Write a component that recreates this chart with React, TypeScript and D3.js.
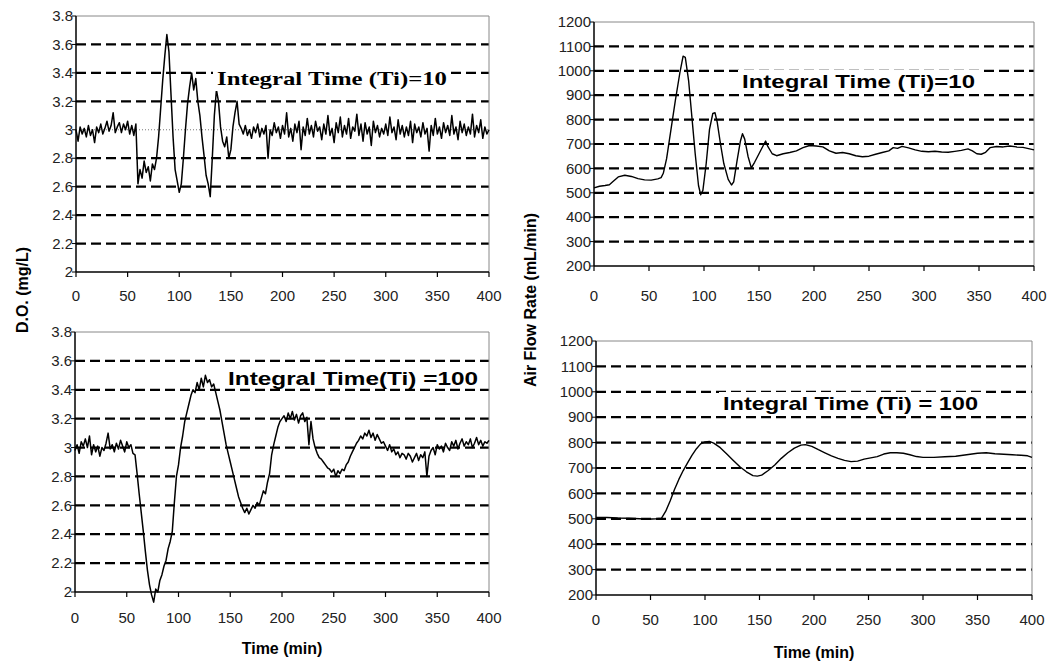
import React, { useEffect, useRef } from 'react';
import * as d3 from 'd3';

const W = 1055;
const H = 663;

// D.O. readings, one every 2 min from 0 to 400
const doTime = d3.range(0, 401, 2);

const doTi10 = [
  3.00, 2.92, 3.02, 2.97, 3.01, 2.95, 3.03, 2.96, 3.00, 2.91,
  3.02, 2.98, 3.04, 2.97, 3.01, 3.06, 2.99, 3.03, 3.12, 2.98,
  3.02, 3.05, 2.98, 3.04, 3.00, 3.06, 2.97, 3.03, 2.96, 3.04,
  2.62, 2.72, 2.66, 2.78, 2.70, 2.74, 2.64, 2.76, 2.72, 2.80,
  2.95, 3.15, 3.35, 3.52, 3.67, 3.55, 3.25, 2.95, 2.72, 2.64,
  2.56, 2.62, 2.80, 3.00, 3.18, 3.30, 3.40, 3.28, 3.36, 3.20,
  3.10, 2.95, 2.82, 2.68, 2.62, 2.53, 2.80, 3.10, 3.28, 3.20,
  3.02, 2.92, 2.88, 2.95, 2.80, 2.86, 3.02, 3.12, 3.20, 3.04,
  3.01, 2.97, 3.03, 2.96, 3.00, 2.94, 3.02, 2.98, 3.04, 2.95,
  3.01, 2.97, 3.03, 2.80, 3.00, 2.96, 3.05, 2.98, 3.02, 2.94,
  3.03, 2.97, 3.12, 2.95, 3.01, 2.92, 3.04, 2.98, 3.06, 2.86,
  3.02, 2.96, 3.08, 2.97, 3.03, 2.95, 3.06, 2.99, 3.02, 2.93,
  3.04, 2.97, 3.10, 2.96, 3.01, 2.91, 3.05, 2.98, 3.09, 2.95,
  3.03, 2.97, 3.08, 2.94, 3.02, 2.99, 3.11, 2.96, 3.04, 2.92,
  3.05, 2.97, 3.02, 2.89, 3.06, 2.98, 3.03, 2.95, 3.01, 2.97,
  3.04, 2.96, 3.09, 2.98, 3.02, 2.93, 3.07, 2.97, 3.03, 2.95,
  3.02, 2.96, 3.06, 2.91, 3.04, 2.98, 3.02, 2.95, 3.05, 2.97,
  3.01, 2.85, 3.03, 2.96, 3.08, 2.97, 3.02, 2.94, 3.05, 2.98,
  3.03, 2.96, 3.10, 2.97, 3.02, 2.93, 3.06, 2.98, 3.04, 2.96,
  3.02, 2.97, 3.11, 2.95, 3.03, 2.98, 3.07, 2.94, 3.02, 2.97,
  3.00,
];

const doTi100 = [
  2.98, 3.02, 2.96, 3.04, 3.01, 3.06, 3.00, 3.08, 2.95, 3.02,
  2.97, 3.01, 2.94, 3.00, 2.98, 3.03, 3.10, 2.99, 3.02, 2.97,
  3.03, 2.99, 3.05, 3.01, 2.97, 3.04, 3.00, 3.02, 2.96,
  2.95, 2.82, 2.68, 2.55, 2.42, 2.28, 2.15, 2.05, 1.98, 1.93,
  2.02, 2.00, 2.08, 2.12, 2.18, 2.22, 2.30, 2.35, 2.42, 2.62,
  2.80, 2.88, 3.00, 3.08, 3.18, 3.24, 3.30, 3.36, 3.40, 3.38,
  3.45, 3.40, 3.48, 3.42, 3.50, 3.45, 3.47, 3.42, 3.44, 3.38,
  3.32, 3.26, 3.18, 3.10, 3.02, 2.96, 2.90, 2.84, 2.78, 2.72,
  2.66, 2.62, 2.58, 2.55, 2.58, 2.54, 2.57, 2.60, 2.58, 2.62,
  2.60, 2.65, 2.70, 2.68, 2.76, 2.82, 2.95, 3.02, 3.08, 3.14,
  3.18, 3.20, 3.22, 3.18, 3.24, 3.20, 3.25, 3.19, 3.23, 3.17,
  3.22, 3.24, 3.18, 3.21, 3.02, 3.18, 3.06, 3.00, 2.96, 2.93,
  2.92, 2.90, 2.88, 2.86, 2.85, 2.83, 2.85, 2.80, 2.84, 2.82,
  2.85, 2.84, 2.88, 2.90, 2.94, 2.97, 3.00, 3.03, 3.05, 3.08,
  3.06, 3.10, 3.08, 3.12, 3.07, 3.10, 3.05, 3.09, 3.06, 3.03,
  3.04, 3.01, 2.98, 3.02, 2.97, 2.99, 2.95, 2.97, 2.93, 2.96,
  2.95, 2.92, 2.96, 2.94, 2.90, 2.93, 2.96, 2.91, 2.95, 2.93,
  2.97, 2.80, 2.94, 2.98, 3.00, 2.95, 3.02, 2.99, 3.01, 2.97,
  3.03, 3.00, 2.98, 3.04, 3.01, 3.05, 2.99, 3.03, 3.06, 3.01,
  3.04, 3.02, 3.06, 3.00, 3.03, 3.07, 3.02, 3.05, 3.01, 3.04,
  3.03, 3.05,
];

// air flow, read at uneven times
const airTi10Time = [
  0, 5, 10, 14, 17, 22, 28, 34, 40, 46, 52, 58, 61, 63, 66, 70, 74, 78, 81, 83,
  86, 89, 92, 95, 97, 99, 102, 105, 108, 110, 112, 115, 118, 122, 125, 127, 130, 133, 135, 137,
  140, 143, 146, 150, 154, 156, 158, 162, 166, 172, 178, 184, 190, 196, 202, 208, 214, 220, 226, 232,
  238, 244, 250, 256, 262, 268, 272, 276, 280, 286, 292, 298, 304, 310, 316, 322, 328, 334, 340, 344,
  348, 352, 356, 360, 366, 372, 378, 384, 390, 396, 400,
];
const airTi10 = [
  520, 527, 530, 533, 545, 565, 572, 567, 558, 553, 552, 557, 562, 580, 640, 760, 880, 990, 1060, 1055,
  960, 810, 660, 530, 492, 510, 620, 760, 825, 828, 790, 700, 620, 555, 532, 545, 630, 710, 742, 720,
  650, 602, 625, 660, 695, 712, 690, 660, 652, 660, 665, 672, 685, 694, 692, 688, 672, 662, 665, 660,
  652, 648, 650, 658, 665, 672, 685, 682, 690, 684, 676, 670, 668, 670, 667, 666, 670, 674, 680, 672,
  660, 658, 666, 685, 690, 688, 692, 688, 686, 680, 676,
];

const airTi100Time = [
  0, 10, 20, 30, 40, 48, 55, 60, 64, 68, 72, 76, 80, 84, 88, 92, 96, 100, 104, 108,
  114, 120, 126, 132, 138, 144, 148, 152, 158, 164, 170, 176, 182, 188, 192, 198, 204, 210, 216, 222,
  228, 234, 240, 246, 252, 258, 264, 270, 276, 282, 288, 294, 300, 310, 320, 330, 340, 350, 358, 366,
  374, 382, 390, 396, 400,
];
const airTi100 = [
  505, 505, 503, 502, 500, 498, 500, 502, 530, 570, 615, 655, 690, 720, 750, 775, 795, 803, 805, 798,
  780, 755, 730, 705, 685, 670, 668, 672, 690, 712, 738, 760, 778, 790, 792, 785, 772, 760, 748, 738,
  730, 725, 727, 735, 740, 745, 755, 760, 760, 758, 752, 745, 742, 742, 744, 746, 752, 758, 760, 756,
  754, 752, 750, 748, 742,
];

const timeTicks = d3.range(0, 401, 50);
const doTicks = [2, 2.2, 2.4, 2.6, 2.8, 3, 3.2, 3.4, 3.6, 3.8];
const airTicks = [200, 300, 400, 500, 600, 700, 800, 900, 1000, 1100, 1200];

const SANS = '"Liberation Sans", Arial, sans-serif';

const panels = [
  {
    left: 76, right: 489, top: 16, bottom: 272, domain: [2, 3.8], ticks: doTicks,
    t: doTime, v: doTi10, dotted: 3, labelY: 296, width: 1.5,
    note: 'Integral Time (Ti)=10', noteX: 217, noteY: 85, noteW: 230, box: true,
    noteFont: '"Liberation Serif", "DejaVu Serif", serif',
  },
  {
    left: 75, right: 489, top: 332, bottom: 592, domain: [2, 3.8], ticks: doTicks,
    t: doTime, v: doTi100, dotted: null, labelY: 618, width: 1.5,
    note: 'Integral Time(Ti) =100', noteX: 228, noteY: 385, noteW: 250, box: false,
    noteFont: SANS,
  },
  {
    left: 594, right: 1034, top: 22, bottom: 266, domain: [200, 1200], ticks: airTicks,
    t: airTi10Time, v: airTi10, dotted: null, labelY: 296, width: 1.4,
    note: 'Integral Time (Ti)=10', noteX: 742, noteY: 88, noteW: 233, box: true,
    noteFont: SANS,
  },
  {
    left: 596, right: 1032, top: 341, bottom: 595, domain: [200, 1200], ticks: airTicks,
    t: airTi100Time, v: airTi100, dotted: null, labelY: 620, width: 1.4,
    note: 'Integral Time (Ti) = 100', noteX: 723, noteY: 410, noteW: 255, box: true,
    noteFont: SANS,
  },
];

const App = () => {
  const svgRef = useRef<SVGSVGElement>(null);

  useEffect(() => {
    const svg = d3.select(svgRef.current);
    svg.selectAll('*').remove();
    svg.append('rect').attr('width', W).attr('height', H).attr('fill', '#fff');

    const fmt = d3.format('~g');

    panels.forEach(p => {
      const x = d3.scaleLinear().domain([0, 400]).range([p.left, p.right]);
      const y = d3.scaleLinear().domain(p.domain).range([p.bottom, p.top]);
      const g = svg.append('g');

      // dashed gridlines (first and last tick are the frame)
      p.ticks.slice(1, -1).forEach(tv => {
        const isDot = p.dotted !== null && Math.abs(tv - p.dotted) < 1e-9;
        g.append('line')
          .attr('x1', p.left).attr('x2', p.right)
          .attr('y1', y(tv)).attr('y2', y(tv))
          .attr('stroke', isDot ? '#555' : '#000')
          .attr('stroke-width', isDot ? 0.8 : 2.2)
          .attr('stroke-dasharray', isDot ? '1,2' : '10,5');
      });

      // frame: light top and right edges
      g.append('path')
        .attr('d', `M${p.left},${p.top}H${p.right}V${p.bottom}`)
        .attr('fill', 'none').attr('stroke', '#888').attr('stroke-width', 1);

      const line = d3.line<number>()
        .x((_, i) => x(p.t[i]))
        .y(d => y(d));
      g.append('path')
        .datum(p.v)
        .attr('d', line)
        .attr('fill', 'none')
        .attr('stroke', '#000')
        .attr('stroke-width', p.width)
        .attr('stroke-linejoin', 'round');

      // annotation
      const txt = g.append('text')
        .attr('x', p.noteX).attr('y', p.noteY)
        .attr('font-family', p.noteFont)
        .attr('font-weight', 'bold')
        .attr('font-size', 19)
        .attr('textLength', p.noteW)
        .attr('lengthAdjust', 'spacingAndGlyphs')
        .attr('fill', '#000')
        .text(p.note);
      if (p.box) {
        const bb = (txt.node() as SVGTextElement).getBBox();
        g.insert('rect', () => txt.node())
          .attr('x', bb.x - 4).attr('y', bb.y - 1)
          .attr('width', bb.width + 8).attr('height', bb.height + 2)
          .attr('fill', '#fff');
      }

      // axes
      g.append('line')
        .attr('x1', p.left).attr('x2', p.left)
        .attr('y1', p.top).attr('y2', p.bottom)
        .attr('stroke', '#000').attr('stroke-width', 1.5);
      g.append('line')
        .attr('x1', p.left).attr('x2', p.right)
        .attr('y1', p.bottom).attr('y2', p.bottom)
        .attr('stroke', '#000').attr('stroke-width', 1.5);

      p.ticks.forEach(tv => {
        g.append('line')
          .attr('x1', p.left - 4).attr('x2', p.left)
          .attr('y1', y(tv)).attr('y2', y(tv))
          .attr('stroke', '#000').attr('stroke-width', 1);
        g.append('text')
          .attr('x', p.left - 3).attr('y', y(tv))
          .attr('dy', '0.35em')
          .attr('text-anchor', 'end')
          .attr('font-family', SANS)
          .attr('font-size', 15)
          .attr('fill', '#222')
          .text(fmt(tv));
      });

      timeTicks.forEach(tv => {
        g.append('line')
          .attr('x1', x(tv)).attr('x2', x(tv))
          .attr('y1', p.bottom).attr('y2', p.bottom + 5)
          .attr('stroke', '#000').attr('stroke-width', 1.2);
        g.append('text')
          .attr('x', x(tv)).attr('y', p.labelY)
          .attr('dy', '0.35em')
          .attr('text-anchor', 'middle')
          .attr('font-family', SANS)
          .attr('font-size', 15)
          .attr('fill', '#222')
          .text(tv);
      });
    });

    // axis titles
    const title = (tx: number, ty: number, s: string, rot: boolean) => {
      svg.append('text')
        .attr('transform', `translate(${tx},${ty})${rot ? ' rotate(-90)' : ''}`)
        .attr('text-anchor', 'middle')
        .attr('dy', '0.35em')
        .attr('font-family', SANS)
        .attr('font-weight', 'bold')
        .attr('font-size', 16)
        .attr('fill', '#000')
        .text(s);
    };
    title(22, 290, 'D.O. (mg/L)', true);
    title(530, 300, 'Air Flow Rate (mL/min)', true);
    title(282, 648, 'Time (min)', false);
    title(814, 652, 'Time (min)', false);
  }, []);

  return (
    <svg
      ref={svgRef}
      width={W}
      height={H}
      style={{ position: 'absolute', left: 0, top: 0 }}
    />
  );
};

export default App;
